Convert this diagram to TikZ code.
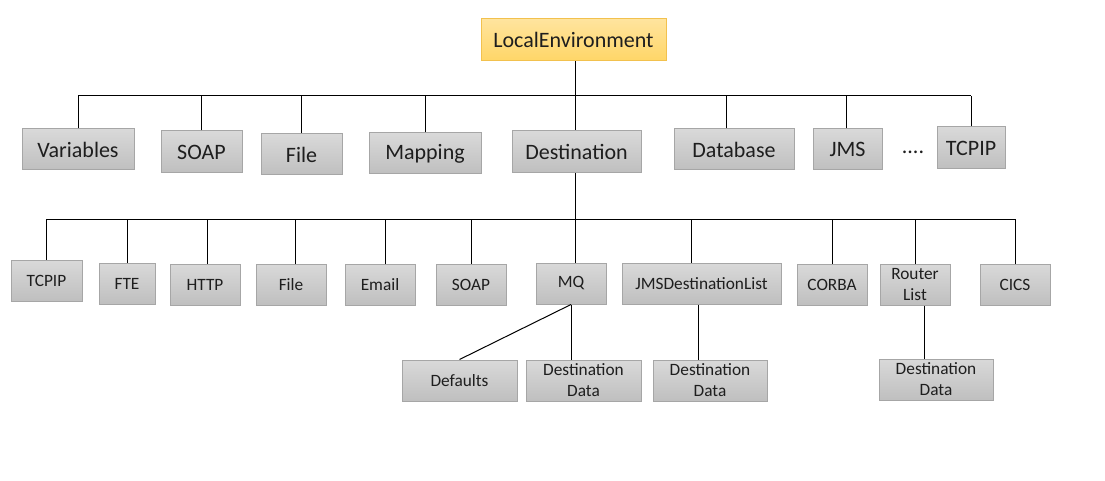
\documentclass[tikz,border=0pt]{standalone}
\usepackage{fontspec}
\setmainfont{Carlito}
\begin{document}
\begin{tikzpicture}[x=1pt,y=-1pt,
  gbox/.style={draw=boxedge, line width=1pt, top color=boxtop, bottom color=boxbot, inner sep=0pt, align=center, text=txt},
  big/.style={font=\fontsize{22}{26}\selectfont},
  small/.style={font=\fontsize{17.3}{21}\selectfont},
  link/.style={draw=black, line width=1pt}]
\definecolor{boxedge}{HTML}{A6A6A6}
\definecolor{boxtop}{HTML}{D9D9D9}
\definecolor{boxbot}{HTML}{BFBFBF}
\definecolor{rootedge}{HTML}{F2C14E}
\definecolor{roottop}{HTML}{FFE49E}
\definecolor{rootbot}{HTML}{FFD667}
\definecolor{txt}{HTML}{1E1E1E}
\useasboundingbox (0,0) rectangle (1105,481);
\fill[white] (0,0) rectangle (1105,481);
% root
\node[gbox, big, draw=rootedge, top color=roottop, bottom color=rootbot, minimum width=185pt, minimum height=42pt] (root) at (573.5,40) {LocalEnvironment};
% level 1
\node[gbox, big, minimum width=112pt, minimum height=41pt] (var) at (78,149.5) {Variables};
\node[gbox, big, minimum width=81pt, minimum height=42pt] (soapa) at (201.5,152) {SOAP};
\node[gbox, big, minimum width=81pt, minimum height=41pt] (filea) at (301.5,154.5) {File};
\node[gbox, big, minimum width=112pt, minimum height=41pt] (map) at (425,153.5) {Mapping};
\node[gbox, big, minimum width=129pt, minimum height=42pt] (dest) at (576.5,152) {Destination};
\node[gbox, big, minimum width=120pt, minimum height=41pt] (db) at (734,149.5) {Database};
\node[gbox, big, minimum width=69pt, minimum height=41pt] (jms) at (847.5,149.5) {JMS};
\node[txt, big, inner sep=0pt] (dots) at (913,152) {....};
\node[gbox, big, minimum width=68pt, minimum height=42pt] (tcpa) at (971,148) {TCPIP};
% bus 1
\coordinate (b1l) at (78,96);
\coordinate (b1r) at (971,96);
\draw[link] (b1l) -- (b1r);
\draw[link] ([xshift=1.5pt]root.south) -- ([xshift=1.5pt]root.south |- dest.north);
\draw[link] (var.north) -- (var.north |- b1l);
\draw[link] (soapa.north) -- (soapa.north |- b1l);
\draw[link] (filea.north) -- (filea.north |- b1l);
\draw[link] (map.north) -- (map.north |- b1l);
\draw[link] ([xshift=-8pt]db.north) -- ([xshift=-8pt]db.north |- b1l);
\draw[link] ([xshift=-1.5pt]jms.north) -- ([xshift=-1.5pt]jms.north |- b1l);
\draw[link] (tcpa.north) -- (tcpa.north |- b1l);
% level 2
\node[gbox, small, minimum width=71pt, minimum height=41pt] (tcpb) at (46.5,280.5) {TCPIP};
\node[gbox, small, minimum width=56pt, minimum height=41pt] (fte) at (127,283.5) {FTE};
\node[gbox, small, minimum width=70pt, minimum height=41pt] (http) at (205,284.5) {HTTP};
\node[gbox, small, minimum width=70pt, minimum height=41pt] (fileb) at (291,284.5) {File};
\node[gbox, small, minimum width=70pt, minimum height=41pt] (email) at (380,284.5) {Email};
\node[gbox, small, minimum width=70pt, minimum height=41pt] (soapb) at (471,284.5) {SOAP};
\node[gbox, small, minimum width=70pt, minimum height=41pt] (mq) at (571,283.5) {MQ};
\node[gbox, small, minimum width=159pt, minimum height=41pt] (jdl) at (701.5,283.5) {JMSDestinationList};
\node[gbox, small, minimum width=70pt, minimum height=41pt] (corba) at (832,284.5) {CORBA};
\node[gbox, small, minimum width=70pt, minimum height=41pt] (router) at (915,284.5) {Router\\List};
\node[gbox, small, minimum width=70pt, minimum height=41pt] (cics) at (1015,284.5) {CICS};
% bus 2
\coordinate (b2l) at (47,219);
\coordinate (b2r) at (1015,219);
\draw[link] (b2l) -- (b2r);
\draw[link] ([xshift=-1.5pt]dest.south) -- ([xshift=-1.5pt]dest.south |- mq.north);
\draw[link] (tcpb.north) -- (tcpb.north |- b2l);
\draw[link] (fte.north) -- (fte.north |- b2l);
\draw[link] ([xshift=2pt]http.north) -- ([xshift=2pt]http.north |- b2l);
\draw[link] ([xshift=4pt]fileb.north) -- ([xshift=4pt]fileb.north |- b2l);
\draw[link] ([xshift=5pt]email.north) -- ([xshift=5pt]email.north |- b2l);
\draw[link] (soapb.north) -- (soapb.north |- b2l);
\draw[link] ([xshift=-10.5pt]jdl.north) -- ([xshift=-10.5pt]jdl.north |- b2l);
\draw[link] (corba.north) -- (corba.north |- b2l);
\draw[link] (router.north) -- (router.north |- b2l);
\draw[link] (cics.north) -- (cics.north |- b2l);
% level 3
\node[gbox, small, minimum width=115pt, minimum height=41pt] (defaults) at (459.5,380.5) {Defaults};
\node[gbox, small, minimum width=115pt, minimum height=41pt] (dda) at (583.5,380.5) {Destination\\Data};
\node[gbox, small, minimum width=114pt, minimum height=41pt] (ddb) at (710,380.5) {Destination\\Data};
\node[gbox, small, minimum width=114pt, minimum height=41pt] (ddc) at (936,379.5) {Destination\\Data};
\draw[link] (mq.south) -- (defaults.north);
\draw[link] (mq.south) -- (mq.south |- dda.north);
\draw[link] ([xshift=-3.5pt]jdl.south) -- ([xshift=-3.5pt]jdl.south |- ddb.north);
\draw[link] ([xshift=9pt]router.south) -- ([xshift=9pt]router.south |- ddc.north);
\end{tikzpicture}
\end{document}
